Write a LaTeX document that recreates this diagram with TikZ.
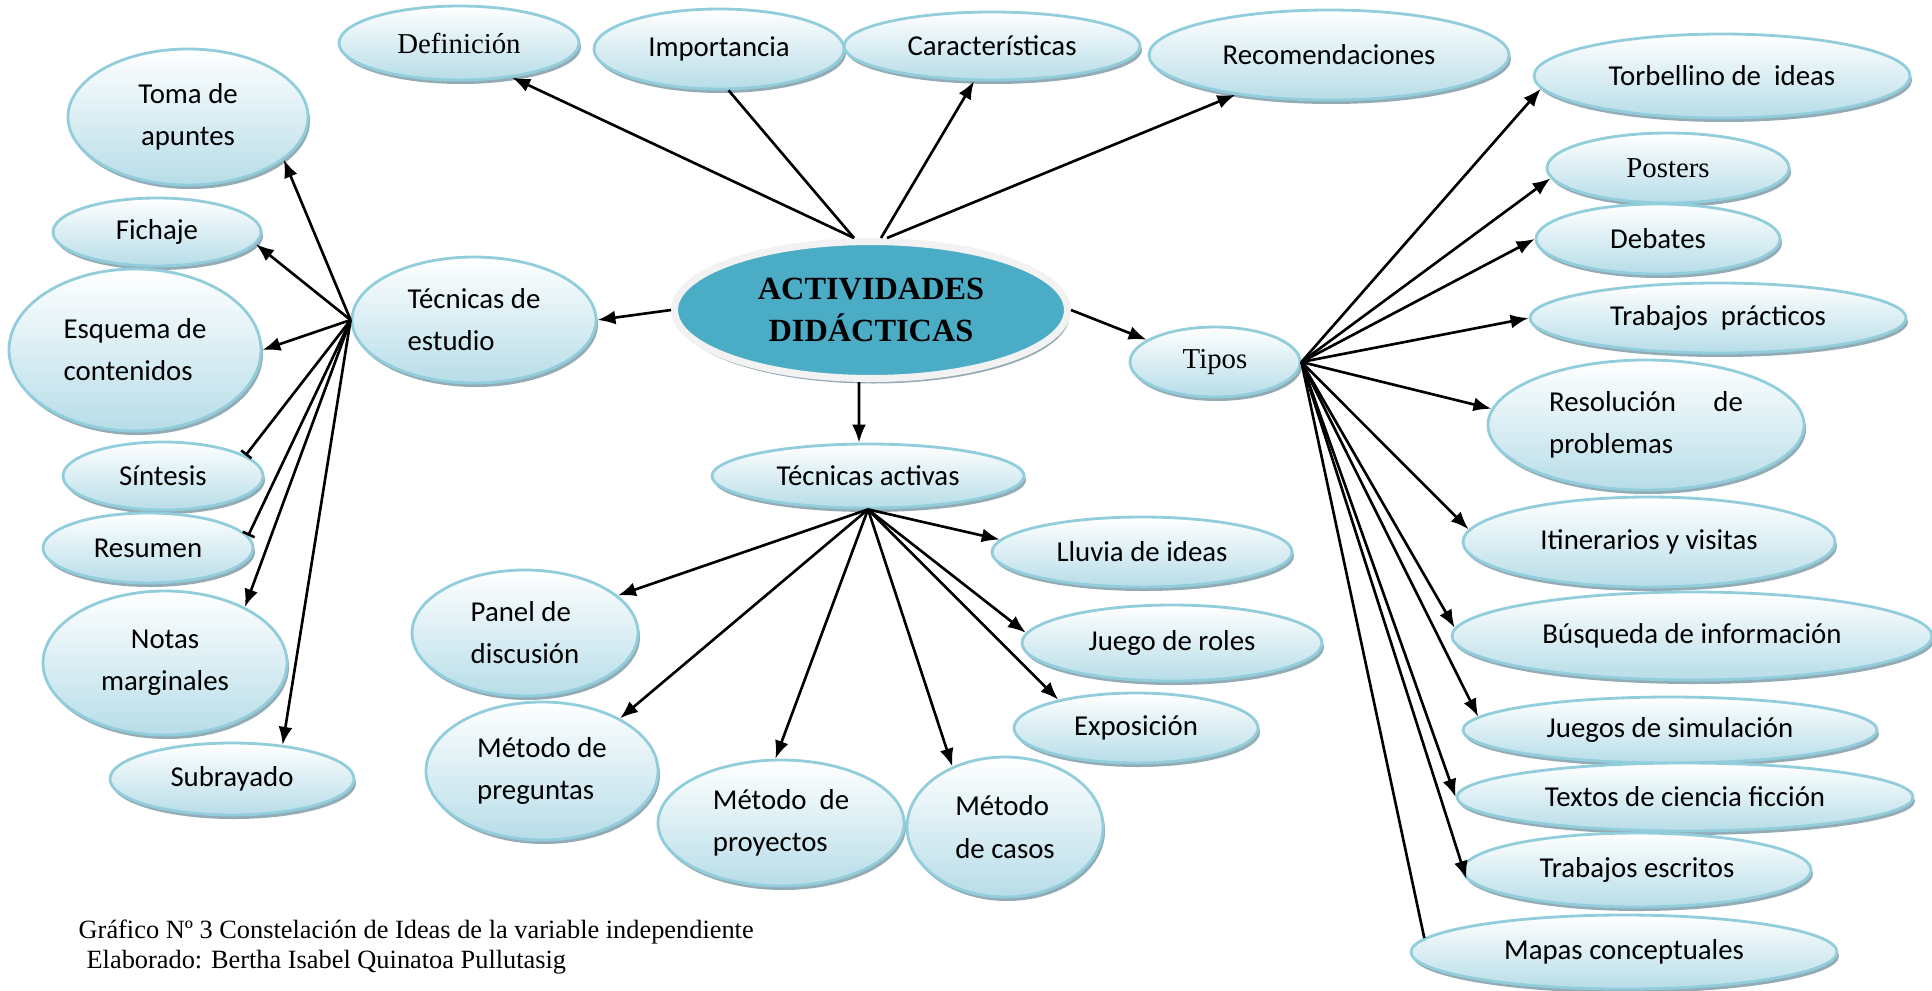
\documentclass[tikz,border=0pt]{standalone}
\usepackage{fontspec}
\setmainfont{Carlito}
\newfontfamily\tnr{Liberation Serif}
\usetikzlibrary{arrows.meta,shapes.geometric,shadows}
\definecolor{cblue}{RGB}{75,172,198}
\definecolor{lblue}{RGB}{183,221,232}
\definecolor{bord}{RGB}{146,205,220}
\definecolor{shad}{RGB}{120,150,162}
\definecolor{ring}{RGB}{242,242,242}

\begin{document}
\begin{tikzpicture}[
    bub/.style={ellipse, draw=bord, line width=0.8pt, top color=white, bottom color=lblue,
        inner sep=0pt, align=center, font=\fontsize{8.2}{12}\selectfont,
        drop shadow={shadow xshift=0.02cm, shadow yshift=-0.04cm, fill=shad, opacity=0.8}},
    tms/.style={font=\tnr\fontsize{8.2}{12}\selectfont},
    arr/.style={-{Latex[length=1.8mm,width=1.4mm]}, line width=0.75pt},
    bar/.style={-{Bar[width=1.3mm]}, line width=0.75pt},
    plain/.style={line width=0.75pt}
]
\useasboundingbox (0,0) rectangle (19.32,-9.90);

% centro
\node[ellipse, fill=cblue, draw=ring, line width=2pt, minimum width=3.93cm, minimum height=1.37cm,
    drop shadow={shadow xshift=0.02cm, shadow yshift=-0.05cm, fill=shad, opacity=0.8},
    align=center, font=\tnr\bfseries\fontsize{9.2}{12}\selectfont] (cen) at (8.71,-3.10) {ACTIVIDADES\\DIDÁCTICAS};

% arriba
\node[bub, tms, minimum width=2.40cm, minimum height=0.74cm] (def) at (4.59,-0.43) {Definición};
\node[bub, minimum width=2.50cm, minimum height=0.80cm] (imp) at (7.19,-0.49) {Importancia};
\node[bub, minimum width=2.96cm, minimum height=0.68cm] (car) at (9.92,-0.46) {Características};
\node[bub, minimum width=3.60cm, minimum height=0.90cm] (rec) at (13.29,-0.55) {Recomendaciones};

% tecnicas de estudio
\node[bub, minimum width=2.44cm, minimum height=1.26cm, align=left] (test) at (4.74,-3.20) {Técnicas de\\estudio};
\node[bub, minimum width=2.40cm, minimum height=1.36cm] (toma) at (1.88,-1.17) {Toma de\\apuntes};
\node[bub, minimum width=2.08cm, minimum height=0.68cm] (fich) at (1.57,-2.32) {Fichaje};
\node[bub, minimum width=2.52cm, minimum height=1.62cm, align=left] (esq) at (1.35,-3.50) {Esquema de\\contenidos};
\node[bub, minimum width=2.00cm, minimum height=0.68cm] (sint) at (1.63,-4.76) {Síntesis};
\node[bub, minimum width=2.10cm, minimum height=0.70cm] (resu) at (1.48,-5.48) {Resumen};
\node[bub, minimum width=2.44cm, minimum height=1.44cm] (notas) at (1.65,-6.63) {Notas\\marginales};
\node[bub, minimum width=2.44cm, minimum height=0.72cm] (subr) at (2.32,-7.79) {Subrayado};

% tecnicas activas
\node[bub, minimum width=3.12cm, minimum height=0.64cm] (tact) at (8.68,-4.76) {Técnicas activas};
\node[bub, minimum width=3.00cm, minimum height=0.70cm] (lluv) at (11.42,-5.52) {Lluvia de ideas};
\node[bub, minimum width=3.00cm, minimum height=0.76cm] (roles) at (11.72,-6.43) {Juego de roles};
\node[bub, minimum width=2.44cm, minimum height=0.70cm] (expo) at (11.36,-7.28) {Exposición};
\node[bub, minimum width=2.26cm, minimum height=1.26cm, align=left] (pan) at (5.25,-6.33) {Panel de\\discusión};
\node[bub, minimum width=2.32cm, minimum height=1.38cm, align=left] (preg) at (5.42,-7.71) {Método de\\preguntas};
\node[bub, minimum width=2.46cm, minimum height=1.26cm, align=left] (proy) at (7.81,-8.23) {Método\ \ de\\proyectos};
\node[bub, minimum width=1.96cm, minimum height=1.40cm, align=left] (casos) at (10.05,-8.27) {Método\\de casos};

% tipos
\node[bub, tms, minimum width=1.70cm, minimum height=0.70cm] (tipos) at (12.15,-3.62) {Tipos};
\node[bub, minimum width=3.76cm, minimum height=0.84cm] (torb) at (17.22,-0.76) {Torbellino de\ \ ideas};
\node[bub, tms, minimum width=2.42cm, minimum height=0.70cm] (post) at (16.68,-1.68) {Posters};
\node[bub, minimum width=2.44cm, minimum height=0.70cm] (deb) at (16.58,-2.39) {Debates};
\node[bub, minimum width=3.76cm, minimum height=0.70cm] (tprac) at (17.18,-3.18) {Trabajos\ \ prácticos};
\node[bub, minimum width=3.16cm, minimum height=1.30cm, align=left] (reso) at (16.46,-4.25) {Resolución\hspace{1.3em}de\\problemas};
\node[bub, minimum width=3.72cm, minimum height=0.90cm] (itin) at (16.49,-5.42) {Itinerarios y visitas};
\node[bub, minimum width=4.80cm, minimum height=0.88cm] (busq) at (16.92,-6.36) {Búsqueda de información};
\node[bub, minimum width=4.14cm, minimum height=0.66cm] (jueg) at (16.70,-7.30) {Juegos de simulación};
\node[bub, minimum width=4.56cm, minimum height=0.68cm] (text) at (16.85,-7.97) {Textos de ciencia ficción};
\node[bub, minimum width=3.48cm, minimum height=0.74cm] (tesc) at (16.37,-8.70) {Trabajos escritos};
\node[bub, minimum width=4.26cm, minimum height=0.74cm] (mapa) at (16.24,-9.52) {Mapas conceptuales};

% pie
\node[anchor=west, align=left, inner sep=0pt, font=\tnr\fontsize{7.5}{8.3}\selectfont] (pie) at (0.78,-9.47)
    {Gráfico Nº 3 Constelación de Ideas de la variable independiente\\\hspace*{0.3em}Elaborado: Bertha Isabel Quinatoa Pullutasig};

% flechas del centro
\draw[arr] ([xshift=-1.7mm]cen.north) -- (def.-33);
\draw[plain] ([xshift=-1.7mm]cen.north) -- (imp.-77);
\draw[arr] ([xshift=1.0mm]cen.north) -- (car.-117);
\draw[arr] ([xshift=1.6mm]cen.north) -- (rec.-157);
\draw[arr] (cen.west) -- (test.east);
\draw[arr] (cen.east) -- (tipos.162);
\draw[arr] ([xshift=-1.2mm]cen.south) -- ([xshift=-0.9mm]tact.north);

% tecnicas de estudio
\draw[arr] (test.west) -- (toma.-24);
\draw[arr] (test.west) -- (fich.-7);
\draw[arr] (test.west) -- (esq.east);
\draw[bar] (test.west) -- (sint.14);
\draw[bar] (test.west) -- (resu.7);
\draw[arr] (test.west) -- (notas.35);
\draw[arr] (test.west) -- (subr.34);

% tecnicas activas
\draw[arr] (tact.south) -- (lluv.175);
\draw[arr] (tact.south) -- (roles.176);
\draw[arr] (tact.south) -- (expo.160);
\draw[arr] (tact.south) -- (pan.22);
\draw[arr] (tact.south) -- (preg.34);
\draw[arr] (tact.south) -- (proy.95);
\draw[arr] (tact.south) -- (casos.131);

% tipos
\draw[arr] (tipos.east) -- (torb.184);
\draw[arr] (tipos.east) -- (post.185);
\draw[arr] (tipos.east) -- (deb.west);
\draw[arr] (tipos.east) -- (tprac.west);
\draw[arr] (tipos.east) -- (reso.174);
\draw[arr] (tipos.east) -- (itin.176);
\draw[arr] (tipos.east) -- (busq.178);
\draw[arr] (tipos.east) -- (jueg.176);
\draw[arr] (tipos.east) -- (text.west);
\draw[arr] (tipos.east) -- (tesc.183);
\draw[plain] (tipos.east) -- (mapa.176);
\end{tikzpicture}
\end{document}
